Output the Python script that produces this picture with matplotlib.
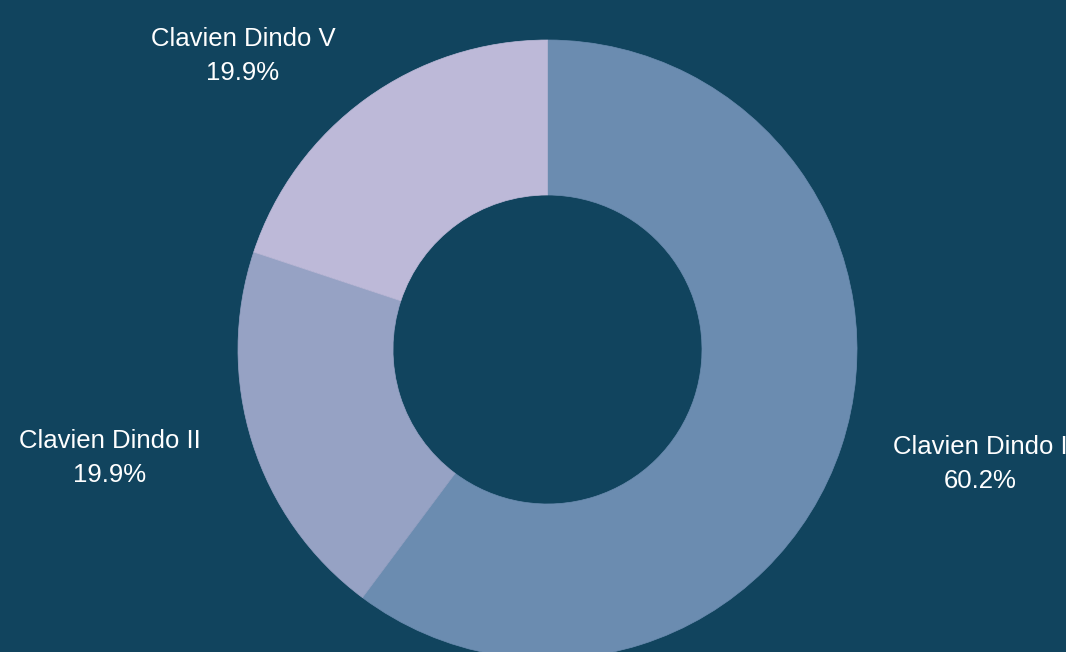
import matplotlib
matplotlib.use("Agg")
import matplotlib.pyplot as plt

categories = ["Clavien Dindo I", "Clavien Dindo II", "Clavien Dindo V"]
values = [60.2, 19.9, 19.9]
colors = ["#6b8cb0", "#96a2c4", "#bdb9d8"]
bg = "#11445e"

W, H = 1066, 652
fig = plt.figure(figsize=(W / 100, H / 100), dpi=100, facecolor=bg)
ax = fig.add_axes([0, 0, 1, 1])
ax.set_facecolor(bg)

cx, cy = 547.5, H - 349.5
R = 309.5
inner = 154.5
wedges, _ = ax.pie(values, colors=colors, startangle=90, counterclock=False,
                   radius=R, center=(cx, cy), frame=True,
                   wedgeprops=dict(width=R - inner, linewidth=0))
for w in wedges:
    w.set_edgecolor(w.get_facecolor())
    w.set_linewidth(0.5)
ax.set_xlim(0, W)
ax.set_ylim(0, H)
ax.set_aspect("equal")
ax.axis("off")

# label centre positions (pixels from top-left)
label_pos = [(980, 464), (110, 458), (243, 56)]
total = sum(values)
for cat, v, (lx, ly) in zip(categories, values, label_pos):
    y = H - ly
    ax.text(lx, y + 17.5, cat, ha="center", va="center", color="white",
            fontsize=18.5, family="Liberation Sans")
    ax.text(lx, y - 17.5, f"{v / total * 100:.1f}%", ha="center", va="center",
            color="white", fontsize=18.5, family="Liberation Sans")

fig.savefig("out.png", dpi=100, facecolor=bg)
